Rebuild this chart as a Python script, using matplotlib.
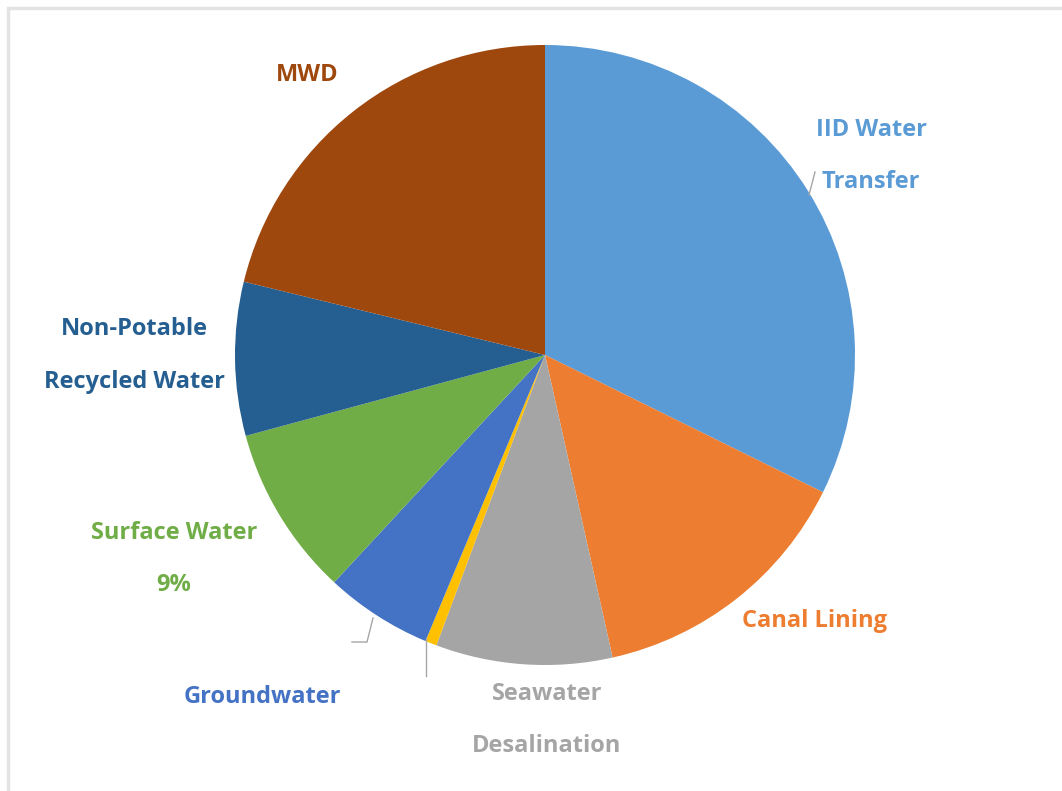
import matplotlib
matplotlib.use("Agg")
import matplotlib.pyplot as plt

labels = ["IID Water Transfer", "Canal Lining", "Seawater Desalination", "Other",
          "Groundwater", "Surface Water", "Non-Potable Recycled Water", "MWD"]
values = [32.3, 14.2, 9.2, 0.6, 5.6, 8.9, 8.0, 21.2]
colors = ["#5B9BD5", "#ED7D31", "#A5A5A5", "#FFC000",
          "#4472C4", "#70AD47", "#255E91", "#9E480E"]

W, H = 1062, 791
fig = plt.figure(figsize=(W / 100, H / 100), dpi=100)
ax = fig.add_axes([0, 0, 1, 1])

def Y(py):
    return H - py

cx, cy, r = 545, 355, 310
ax.pie(values, colors=colors, startangle=90, counterclock=False,
       center=(cx, Y(cy)), radius=r, frame=True,
       wedgeprops=dict(linewidth=0))
ax.set_xlim(0, W)
ax.set_ylim(0, H)
ax.axis("off")

# frame
ax.plot([8, 8, W + 5], [Y(H + 5), Y(8), Y(8)], color="#e3e3e3", lw=2.5,
        solid_joinstyle="miter", zorder=0)

font = dict(family=["Open Sans", "DejaVu Sans"], fontweight="bold", fontsize=17,
            ha="center", va="center")

ax.text(307, Y(75), "MWD", color="#9E480E", **font)
ax.text(871, Y(130), "IID Water", color="#5B9BD5", **font)
ax.text(871, Y(182), "Transfer", color="#5B9BD5", **font)
ax.text(814, Y(621), "Canal Lining", color="#ED7D31", **font)
ax.text(547, Y(694), "Seawater", color="#A5A5A5", **font)
ax.text(547, Y(746), "Desalination", color="#A5A5A5", **font)
ax.text(262, Y(697), "Groundwater", color="#4472C4", **font)
ax.text(174, Y(533), "Surface Water", color="#70AD47", **font)
ax.text(174, Y(585), "9%", color="#70AD47", **font)
ax.text(134, Y(329), "Non-Potable", color="#255E91", **font)
ax.text(134, Y(382), "Recycled Water", color="#255E91", **font)

# leader lines
lc = "#A6A6A6"
ax.plot([373, 367, 352], [Y(618), Y(642), Y(642)], color=lc, lw=1)
ax.plot([426, 426], [Y(638), Y(676)], color=lc, lw=1)
ax.plot([809, 815], [Y(195), Y(172)], color=lc, lw=1)

fig.savefig("out.png", dpi=100)
